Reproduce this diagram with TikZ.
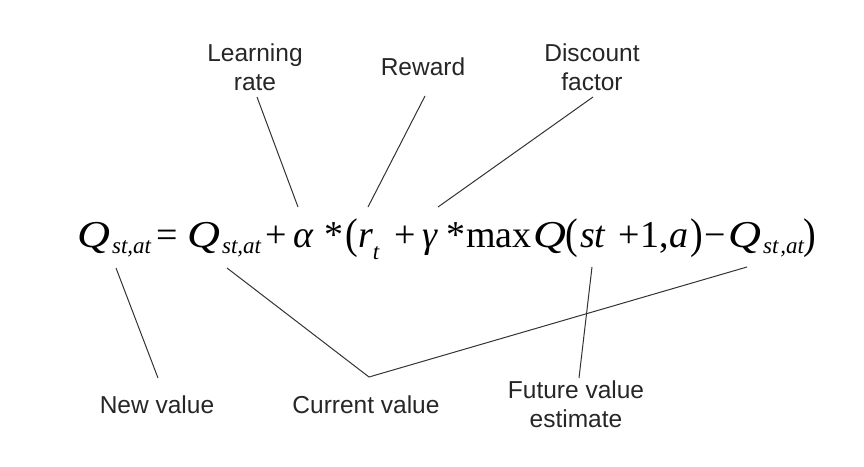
\documentclass[tikz,border=0pt]{standalone}
\usepackage{fontspec}
\setmainfont{Liberation Serif}
\newfontfamily\eqfont{Liberation Serif}
\newfontfamily\labelfont{Liberation Sans}
\newcommand{\eqsb}[2][-6.5pt]{\raisebox{#1}{\fontsize{23}{23}\selectfont\itshape #2}}
\newcommand{\wideQ}{\scalebox{1.2}[1]{Q}}
\newcommand{\tallp}[1]{\raisebox{-1.5pt}{\scalebox{1}[1.13]{#1}}}
\tikzset{
  eqt/.style={font=\eqfont\fontsize{38}{38}\selectfont, inner sep=0pt, anchor=base west},
  eqi/.style={font=\eqfont\fontsize{38}{38}\selectfont\itshape, inner sep=0pt, anchor=base west},
  lbl/.style={font=\labelfont\fontsize{24.5}{29}\selectfont, text=black!85, inner sep=0pt, align=center},
  conn/.style={draw=black!80, line width=1pt}
}
\begin{document}
\begin{tikzpicture}[x=1pt, y=-1pt]
\useasboundingbox (0,0) rectangle (864,466);
% equation
\node[eqi] (q1) at (77,247) {\wideQ\hspace{2pt}\eqsb{st,at}};
\node[eqt] (eq) at (156,247) {=};
\node[eqi] (q2) at (187,247) {\wideQ\hspace{2pt}\eqsb{st,at}};
\node[eqt] (p1) at (265,247) {+};
\node[eqi] (al) at (293,247) {α};
\node[eqt] (m1) at (324,247) {*};
\node[eqt] (lp1) at (345,247) {\tallp{(}};
\node[eqi] (r) at (358,247) {r\eqsb[-12pt]{t}};
\node[eqt] (p2) at (394,247) {+};
\node[eqi] (ga) at (422,247) {γ};
\node[eqt] (m2) at (446,247) {*};
\node[eqt] (mx) at (466,247) {max};
\node[eqi] (q3) at (533,247) {\wideQ};
\node[eqt] (lp2) at (565,247) {\tallp{(}};
\node[eqi] (st) at (580,247) {st};
\node[eqt] (p3) at (618,247) {+};
\node[eqt] (one) at (640,247) {1,\hspace{1pt}\textit{a}};
\node[eqt] (rp1) at (690,247) {\tallp{)}};
\node[eqt] (mi) at (704,247) {−};
\node[eqi] (q4) at (728,247) {\wideQ\hspace{2pt}\eqsb{st\hspace{2pt},at}};
\node[eqt] (rp2) at (803,247) {\tallp{)}};
% labels
\node[lbl, anchor=north] (lr) at (255,44) {Learning\\rate};
\node[lbl, anchor=base] (rw) at (423,75) {Reward};
\node[lbl, anchor=north] (df) at (592,44) {Discount\\factor};
\node[lbl, anchor=base] (nv) at (157,413) {New value};
\node[lbl, anchor=base] (cv) at (366,413) {Current value};
\node[lbl, anchor=north] (fv) at (576,381) {Future value\\estimate};
% connector ends
\coordinate (lrA) at (257,97);  \coordinate (lrB) at (298,207);
\coordinate (rwA) at (425,96);  \coordinate (rwB) at (368,207);
\coordinate (dfA) at (593,97);  \coordinate (dfB) at (438,207);
\coordinate (nvA) at (116,268); \coordinate (nvB) at (158,378);
\coordinate (cvA) at (227,268); \coordinate (cvM) at (369,377); \coordinate (cvC) at (747,267);
\coordinate (fvA) at (592,267); \coordinate (fvB) at (579,378);
\draw[conn] (lrA) -- (lrB);
\draw[conn] (rwA) -- (rwB);
\draw[conn] (dfA) -- (dfB);
\draw[conn] (nvA) -- (nvB);
\draw[conn] (cvA) -- (cvM) -- (cvC);
\draw[conn] (fvA) -- (fvB);
\end{tikzpicture}
\end{document}
